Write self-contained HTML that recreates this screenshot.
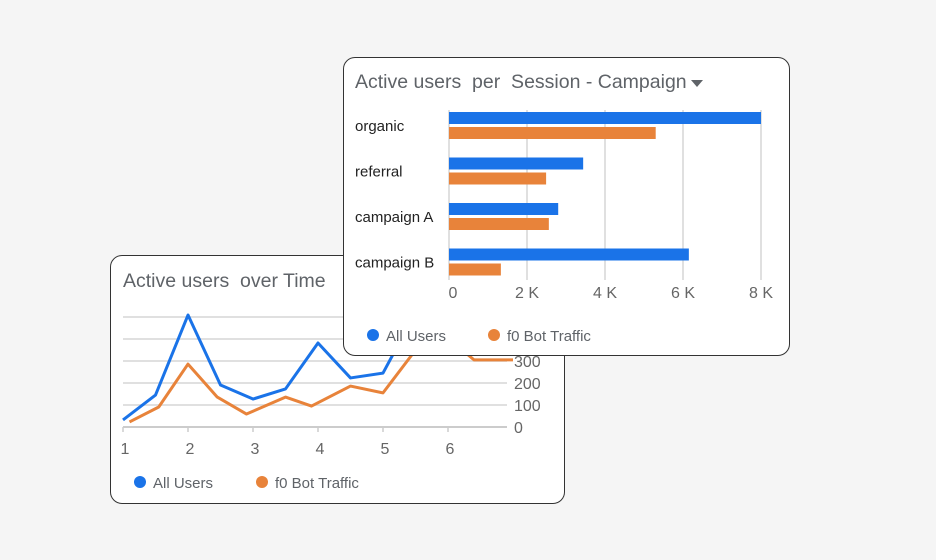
<!DOCTYPE html>
<html><head><meta charset="utf-8"><style>
body{margin:0;width:936px;height:560px;background:#f5f5f5;overflow:hidden;font-family:"Liberation Sans",sans-serif;}
.card{position:absolute;background:#fff;border:1px solid #333;border-radius:12px;box-sizing:border-box;}
svg text{font-family:"Liberation Sans",sans-serif;white-space:pre;}
</style></head><body>
<div class="card" style="left:110px;top:255px;width:455px;height:249px;">
<svg id="ls" width="455" height="249" style="position:absolute;left:-1px;top:-1px"></svg>
</div>
<div class="card" style="left:343px;top:57px;width:447px;height:299px;">
<svg id="bs" width="447" height="299" style="position:absolute;left:-1px;top:-1px"></svg>
</div>
<script>
// line chart data
const lineXBlue=[1,1.5,2,2.5,3,3.5,4,4.5,5,5.5,6,6.5,7];
const lineBlue=[32,145,509,191,127,173,382,223,245,520,480,440,430];
const lineXOrange=[1.1,1.55,2,2.45,2.9,3.5,3.9,4.5,5,5.45,6.3,6.4,7];
const lineOrange=[23,91,286,136,59,136,95,186,155,330,330,305,305];
const lineYTicks=[0,100,200,300,400,500];
const lineXTicks=[1,2,3,4,5,6];
// bar chart data
const barCats=["organic","referral","campaign A","campaign B"];
const barAll=[8000,3440,2800,6150];
const barBot=[5300,2490,2560,1330];
const barTicks=[0,2000,4000,6000,8000];
const barTickLabels=["0","2 K","4 K","6 K","8 K"];

const NS="http://www.w3.org/2000/svg";
function mk(svg,t,a,txt){const e=document.createElementNS(NS,t);for(const k in a)e.setAttribute(k,a[k]);if(txt!==undefined)e.textContent=txt;svg.appendChild(e);return e;}
const BLUE="#1a73e8",ORANGE="#e8833a";

// line chart (card offset 110,255)
const ls=document.getElementById('ls');
const lx=v=>123-110+(v-1)*65, ly=v=>427-255-v*0.22;
let lt=mk(ls,'text',{x:13,y:32,'font-size':19.5,fill:'#5f6368'},'Active users  over Time');

lineYTicks.forEach(t=>{
 let g=mk(ls,'line',{x1:lx(1),x2:397,y1:ly(t),y2:ly(t),stroke:t===0?'#ccc':'#e0e0e0','stroke-width':2});
 
 let l=mk(ls,'text',{x:404,y:ly(t)+6,'font-size':16,fill:'#666'},String(t));
 
});
lineXTicks.forEach(t=>{
 mk(ls,'line',{x1:lx(t),x2:lx(t),y1:ly(0),y2:ly(0)+5,stroke:'#ccc','stroke-width':1.5});
 let l=mk(ls,'text',{x:lx(t)+2,y:ly(0)+27,'font-size':16,fill:'#666','text-anchor':'middle'},String(t));
 
});
let pb=mk(ls,'polyline',{points:lineXBlue.map((x,i)=>lx(x)+','+ly(lineBlue[i])).join(' '),fill:'none',stroke:BLUE,'stroke-width':3,'stroke-linejoin':'round'});

let po=mk(ls,'polyline',{points:lineXOrange.map((x,i)=>lx(x)+','+ly(lineOrange[i])).join(' '),fill:'none',stroke:ORANGE,'stroke-width':3,'stroke-linejoin':'round'});

[[30,BLUE,'All Users'],[152,ORANGE,'f0 Bot Traffic']].forEach(([x,c,t])=>{
 let d=mk(ls,'circle',{cx:x,cy:227,r:6,fill:c});
 let l=mk(ls,'text',{x:x+13,y:233,'font-size':15,fill:'#5f6368'},t);
});

// bar chart (card offset 343,57)
const bs=document.getElementById('bs');
const bx=v=>449-343+v*0.039;
let bt=mk(bs,'text',{x:12,y:31,'font-size':19.5,fill:'#5f6368'},'Active users  per  Session - Campaign');

let dd=mk(bs,'path',{d:'M348 23 L360 23 L354 30 Z',fill:'#5f6368'});
barTicks.forEach((t,i)=>{
 let g=mk(bs,'line',{x1:bx(t),x2:bx(t),y1:53,y2:223,stroke:'#e0e0e0','stroke-width':2});
 
 let l=mk(bs,'text',{x:bx(t)+(i?0:4),y:241,'font-size':16,fill:'#666','text-anchor':'middle'},barTickLabels[i]);
 
});
barCats.forEach((c,i)=>{
 const y0=55+i*45.5;
 let l=mk(bs,'text',{x:12,y:y0+19,'font-size':15,fill:'#222'},c);
 let b=mk(bs,'rect',{x:bx(0),y:y0,width:bx(barAll[i])-bx(0),height:12,fill:BLUE});
 let o=mk(bs,'rect',{x:bx(0),y:y0+15,width:bx(barBot[i])-bx(0),height:12,fill:ORANGE});
});
[[30,BLUE,'All Users'],[151,ORANGE,'f0 Bot Traffic']].forEach(([x,c,t])=>{
 let d=mk(bs,'circle',{cx:x,cy:278,r:6,fill:c});
 let l=mk(bs,'text',{x:x+13,y:284,'font-size':15,fill:'#5f6368'},t);
});
</script>
</body></html>
